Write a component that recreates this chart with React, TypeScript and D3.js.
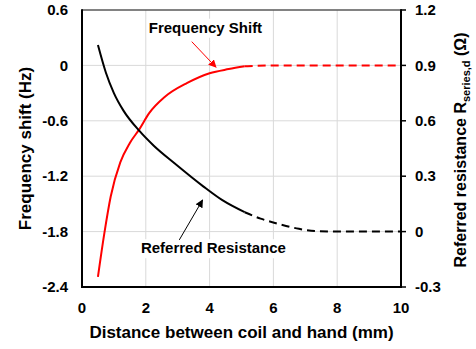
import React, { useEffect, useRef } from "react";
import * as d3 from "d3";

// Frequency shift (left axis, Hz) – solid measured part and dashed extrapolation
const freqSolidX = [0.5, 0.7, 0.9, 1.2, 1.5, 1.8, 2.1, 2.6, 3.3, 4.0, 4.6, 5.1];
const freqSolidY = [-2.29, -1.82, -1.42, -1.05, -0.84, -0.69, -0.52, -0.34, -0.19, -0.085, -0.04, -0.01];
const freqDashX = [5.1, 5.5, 6, 7, 8, 9, 10];
const freqDashY = [-0.01, -0.004, 0, 0, 0, 0, 0];

// Referred resistance (right axis, Ohm)
const resSolidX = [0.5, 0.75, 1.0, 1.3, 1.8, 2.25, 2.9, 3.8, 4.4, 5.1];
const resSolidY = [1.01, 0.86, 0.75, 0.655, 0.545, 0.465, 0.37, 0.245, 0.17, 0.105];
const resDashX = [5.1, 5.6, 6.2, 6.8, 7.3, 8, 9, 10];
const resDashY = [0.105, 0.07, 0.04, 0.015, 0.003, 0, 0, 0];

const xTicks = [0, 2, 4, 6, 8, 10];
const leftTicks = [0.6, 0, -0.6, -1.2, -1.8, -2.4];
const rightTicks = [1.2, 0.9, 0.6, 0.3, 0, -0.3];
const xGrid = [2, 4, 6, 8];
const yGrid = [0, -0.6, -1.2, -1.8];

const xTitle = "Distance between coil and hand (mm)";
const leftTitle = "Frequency shift (Hz)";
const freqLabel = "Frequency Shift";
const resLabel = "Referred Resistance";

const FONT = "Arial, 'Liberation Sans', sans-serif";

export default function App() {
  const ref = useRef<SVGSVGElement>(null);

  useEffect(() => {
    const svg = d3.select(ref.current);
    svg.selectAll("*").remove();

    const L = 82, R = 401, T = 10, B = 287;
    const x = d3.scaleLinear().domain([0, 10]).range([L, R]);
    const yL = d3.scaleLinear().domain([-2.4, 0.6]).range([B, T]);
    const yR = d3.scaleLinear().domain([-0.3, 1.2]).range([B, T]);

    // gridlines
    const g = svg.append("g");
    g.selectAll("line.vx").data(xGrid).join("line")
      .attr("x1", d => x(d)).attr("x2", d => x(d)).attr("y1", T).attr("y2", B)
      .attr("stroke", "#d9d9d9").attr("stroke-width", 1);
    g.selectAll("line.hy").data(yGrid).join("line")
      .attr("x1", L).attr("x2", R).attr("y1", d => yL(d)).attr("y2", d => yL(d))
      .attr("stroke", "#d9d9d9").attr("stroke-width", 1);

    // annotation labels with white backgrounds
    const addLabel = (txt: string, cx: number, by: number) => {
      const bg = svg.append("rect").attr("fill", "#fff");
      const t = svg.append("text").attr("x", cx).attr("y", by)
        .attr("text-anchor", "middle").attr("font-family", FONT)
        .attr("font-weight", "bold").attr("font-size", 15).attr("fill", "#000").text(txt);
      const bb = (t.node() as SVGTextElement).getBBox();
      bg.attr("x", bb.x - 2).attr("y", bb.y).attr("width", bb.width + 4).attr("height", bb.height + 2);
    };
    addLabel(freqLabel, x(3.87), yL(0.354));
    addLabel(resLabel, x(4.12), yR(-0.117));

    // curves
    const lineL = d3.line<[number, number]>().x(d => x(d[0])).y(d => yL(d[1])).curve(d3.curveMonotoneX);
    const lineR = d3.line<[number, number]>().x(d => x(d[0])).y(d => yR(d[1])).curve(d3.curveMonotoneX);
    const zip = (a: number[], b: number[]) => a.map((v, i) => [v, b[i]] as [number, number]);

    svg.append("path").attr("d", lineL(zip(freqSolidX, freqSolidY)))
      .attr("fill", "none").attr("stroke", "#ff0000").attr("stroke-width", 2);
    svg.append("path").attr("d", lineL(zip(freqDashX, freqDashY)))
      .attr("fill", "none").attr("stroke", "#ff0000").attr("stroke-width", 2)
      .attr("stroke-dasharray", "8,5");
    svg.append("path").attr("d", lineR(zip(resSolidX, resSolidY)))
      .attr("fill", "none").attr("stroke", "#000").attr("stroke-width", 2);
    svg.append("path").attr("d", lineR(zip(resDashX, resDashY)))
      .attr("fill", "none").attr("stroke", "#000").attr("stroke-width", 2)
      .attr("stroke-dasharray", "8,5");

    // arrows
    const defs = svg.append("defs");
    const mk = (id: string, color: string) => {
      defs.append("marker").attr("id", id).attr("viewBox", "0 0 10 10")
        .attr("refX", 9).attr("refY", 5).attr("markerWidth", 8).attr("markerHeight", 8)
        .attr("markerUnits", "userSpaceOnUse").attr("orient", "auto")
        .append("path").attr("d", "M0,0 L10,5 L0,10 z").attr("fill", color);
    };
    mk("arrRed", "#ff0000");
    mk("arrBlk", "#000");
    svg.append("line")
      .attr("x1", x(3.44)).attr("y1", yL(0.257)).attr("x2", x(4.2)).attr("y2", yL(-0.02))
      .attr("stroke", "#ff0000").attr("stroke-width", 1).attr("marker-end", "url(#arrRed)");
    svg.append("line")
      .attr("x1", x(3.05)).attr("y1", yR(-0.045)).attr("x2", x(3.78)).attr("y2", yR(0.171))
      .attr("stroke", "#000").attr("stroke-width", 1).attr("marker-end", "url(#arrBlk)");

    // frame / axes
    svg.append("line").attr("x1", L).attr("x2", R).attr("y1", T).attr("y2", T)
      .attr("stroke", "#595959").attr("stroke-width", 1.5);
    svg.append("line").attr("x1", L).attr("x2", L).attr("y1", T - 0.75).attr("y2", B + 1)
      .attr("stroke", "#000").attr("stroke-width", 2);
    svg.append("line").attr("x1", L - 1).attr("x2", R + 1).attr("y1", B).attr("y2", B)
      .attr("stroke", "#000").attr("stroke-width", 2);
    svg.append("line").attr("x1", R).attr("x2", R).attr("y1", T - 0.75).attr("y2", B + 1)
      .attr("stroke", "#000").attr("stroke-width", 2);
    svg.selectAll("line.rt").data(rightTicks).join("line")
      .attr("x1", R).attr("x2", R + 5).attr("y1", d => yR(d)).attr("y2", d => yR(d))
      .attr("stroke", "#000").attr("stroke-width", 1.5);

    const txt = (sel: any) => sel.attr("font-family", FONT).attr("font-weight", "bold")
      .attr("font-size", 15).attr("fill", "#000");

    svg.selectAll("text.lt").data(leftTicks).join("text")
      .call(txt).attr("x", L - 14).attr("y", d => yL(d)).attr("dy", "0.35em")
      .attr("text-anchor", "end").text(d => String(d));
    svg.selectAll("text.rtl").data(rightTicks).join("text")
      .call(txt).attr("x", R + 14).attr("y", d => yR(d)).attr("dy", "0.35em")
      .attr("text-anchor", "start").text(d => String(d));
    svg.selectAll("text.xt").data(xTicks).join("text")
      .call(txt).attr("x", d => x(d)).attr("y", 313)
      .attr("text-anchor", "middle").text(d => String(d));

    // axis titles
    svg.append("text").call(txt).attr("font-size", 17)
      .attr("x", (L + R) / 2).attr("y", 338).attr("text-anchor", "middle").text(xTitle);
    svg.append("text").call(txt).attr("font-size", 17)
      .attr("transform", `translate(31,${(T + B) / 2}) rotate(-90)`)
      .attr("text-anchor", "middle").text(leftTitle);
    const rt = svg.append("text").call(txt).attr("font-size", 16)
      .attr("transform", `translate(466,150) rotate(-90)`)
      .attr("text-anchor", "middle");
    rt.append("tspan").text("Referred resistance R");
    rt.append("tspan").attr("font-size", 11).attr("dy", 4).text("series,d");
    rt.append("tspan").attr("dy", -4).text(" (\u03A9)");
  }, []);

  return (
    <svg ref={ref} width={476} height={349}
      style={{ position: "absolute", left: 0, top: 0, background: "#fff" }} />
  );
}
